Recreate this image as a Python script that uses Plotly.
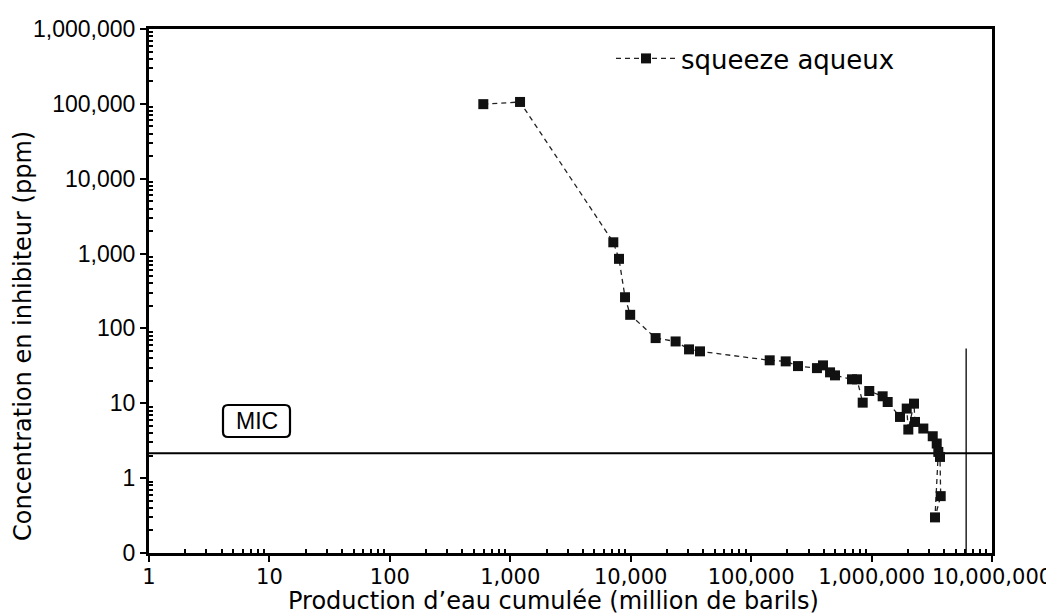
import plotly.graph_objects as go

# Data (cumulative water production, inhibitor concentration in ppm)
production = [597, 1205, 7170, 7990, 8970, 9900, 16100, 23600, 30500, 37600,
              142600, 193700, 244900, 352000, 395000, 452000, 497000, 688000, 757000,
              844000, 957000, 1236000, 1361000, 1722000, 1958000, 2019000, 2250000,
              2295000, 2690000, 3220000, 3475000, 3583000, 3363000, 3750000, 3700000]
concentration = [99100, 106000, 1415, 850, 261, 152, 74.3, 67, 52.5, 49.4,
                 37.5, 36.3, 31.4, 29.5, 32.1, 25.9, 23.6, 20.9, 20.9,
                 10.2, 14.6, 12.4, 10.4, 6.57, 8.5, 4.46, 9.9,
                 5.63, 4.6, 3.63, 2.9, 2.24, 0.299, 0.575, 1.92]

mic_level = 2.15
mic_x = [1, 1e7]
limit_x = 6.1e6
limit_y = [0.1, 54]

x_tickvals = [1, 10, 100, 1000, 1e4, 1e5, 1e6, 1e7]
x_ticktext = ["1", "10", "100", "1,000", "10,000", "100,000", "1,000,000", "10,000,000"]
y_tickvals = [0.1, 1, 10, 100, 1000, 1e4, 1e5, 1e6]
y_ticktext = ["0", "1", "10", "100", "1,000", "10,000", "100,000", "1,000,000"]

x_minor = [m * 10 ** k for k in range(0, 7) for m in range(2, 10)]
y_minor = [m * 10 ** k for k in range(-1, 6) for m in range(2, 10)]

fig = go.Figure()

fig.add_trace(go.Scatter(
    x=mic_x, y=[mic_level, mic_level], mode="lines",
    line=dict(color="black", width=2), showlegend=False, hoverinfo="skip"))
fig.add_trace(go.Scatter(
    x=[limit_x, limit_x], y=limit_y, mode="lines",
    line=dict(color="black", width=1.3), showlegend=False, hoverinfo="skip"))

fig.add_trace(go.Scatter(
    x=production, y=concentration, mode="lines+markers",
    name="squeeze aqueux",
    line=dict(color="#222", width=1.3, dash="5px,4px"),
    marker=dict(symbol="square", size=10, color="#111"),
))

axis_common = dict(
    type="log", showgrid=False, zeroline=False, automargin=False,
    showline=True, linecolor="black", linewidth=3, mirror=True,
    ticks="outside", ticklen=6, tickwidth=2, tickcolor="black",
)

fig.update_xaxes(
    **axis_common, range=[0, 7],
    tickmode="array", tickvals=x_tickvals, ticktext=x_ticktext,
    tickfont=dict(family="DejaVu Sans", size=21, color="black"),
    ticklabelstandoff=-3,
    minor=dict(tickmode="array", tickvals=x_minor, ticks="inside", ticklen=4,
               tickwidth=1.5, tickcolor="black"),
)
fig.update_yaxes(
    **axis_common, range=[-1, 6],
    tickmode="array", tickvals=y_tickvals, ticktext=y_ticktext,
    tickfont=dict(family="Liberation Sans, Arial", size=23, color="black"),
    minor=dict(tickmode="array", tickvals=y_minor, ticks="inside", ticklen=4,
               tickwidth=1.5, tickcolor="black"),
)

# Page offset (body margin) and plot-area box in screen pixels
OFF = 8
FW, FH = 1054 - OFF, 616 - OFF
L, R, T, B = 149, 992, 29, 553
W, H = R - L, B - T
def px(xp):
    return (xp - L) / W
def py(yp):
    return (B - yp) / H

# MIC label box (rounded)
bx0, bx1, by0, by1, r = 223, 290, 405, 437, 5
path = (f"M {px(bx0 + r)},{py(by0)} L {px(bx1 - r)},{py(by0)} "
        f"Q {px(bx1)},{py(by0)} {px(bx1)},{py(by0 + r)} "
        f"L {px(bx1)},{py(by1 - r)} Q {px(bx1)},{py(by1)} {px(bx1 - r)},{py(by1)} "
        f"L {px(bx0 + r)},{py(by1)} Q {px(bx0)},{py(by1)} {px(bx0)},{py(by1 - r)} "
        f"L {px(bx0)},{py(by0 + r)} Q {px(bx0)},{py(by0)} {px(bx0 + r)},{py(by0)} Z")
fig.add_shape(type="path", path=path, xref="paper", yref="paper",
              line=dict(color="black", width=2.2), fillcolor="white")

fig.add_annotation(text="MIC", xref="paper", yref="paper",
                   x=px((bx0 + bx1) / 2), y=py((by0 + by1) / 2),
                   xanchor="center", yanchor="middle",
                   showarrow=False, font=dict(family="Liberation Sans, Arial", size=23, color="black"))

# Axis titles
fig.add_annotation(text="Production d’eau cumulée (million de barils)",
                   xref="paper", yref="paper", x=px(553), y=py(601),
                   xanchor="center", yanchor="middle",
                   showarrow=False, font=dict(family="DejaVu Sans", size=24, color="black"))
fig.add_annotation(text="Concentration en inhibiteur (ppm)",
                   xref="paper", yref="paper", x=px(23), y=py(336), textangle=-90,
                   xanchor="center", yanchor="middle",
                   showarrow=False, font=dict(family="DejaVu Sans", size=24, color="black"))

fig.update_layout(
    width=FW, height=FH,
    margin=dict(l=L - OFF, r=FW - (R - OFF), t=T - OFF, b=FH - (B - OFF), autoexpand=False),
    paper_bgcolor="white", plot_bgcolor="white",
    showlegend=True,
    legend=dict(x=px(611), y=py(35), xanchor="left", yanchor="top",
                font=dict(family="DejaVu Sans", size=26, color="black"),
                bgcolor="rgba(0,0,0,0)", itemwidth=60),
)

fig.write_html("out.html")
